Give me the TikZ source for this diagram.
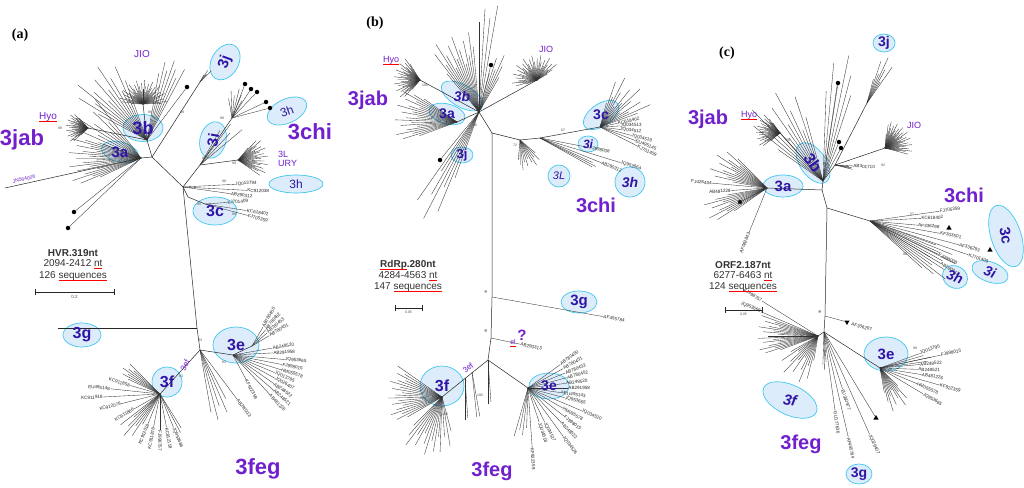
\documentclass[tikz,border=0pt]{standalone}
\usepackage{fontspec}
\setmainfont{Liberation Sans}
\newfontfamily\panelfont{Liberation Serif}
\usetikzlibrary{shapes.geometric}

\definecolor{ellfill}{RGB}{221,236,250}
\definecolor{ellline}{RGB}{64,200,240}
\definecolor{elltext}{RGB}{48,20,165}
\definecolor{grpcol}{RGB}{112,32,205}

% red spell-check underline
\newcommand{\redwave}[1]{\setbox0\hbox{#1}\rlap{\color{red}\rule[-1.8pt]{\wd0}{0.4pt}}\box0}
\newcommand{\fs}[1]{\fontsize{#1}{#1}\selectfont}

% one labelled leaf: from node, screen angle, length, label
\newcommand{\treeleaf}[4]{%
  \pgfmathtruncatemacro\rside{cos(#2)>=0 ? 1 : 0}%
  \ifnum\rside=1
    \pgfmathsetmacro\rot{-(#2)}%
    \draw[leafline] (#1) -- ++(#2:#3) node[leaflab,anchor=west,rotate=\rot] {#4};
  \else
    \pgfmathsetmacro\rot{180-(#2)}%
    \draw[leafline] (#1) -- ++(#2:#3) node[leaflab,anchor=east,rotate=\rot] {#4};
  \fi}

% a bunch of unlabelled leaves: node, first angle, last angle, count, shortest, longest
\newcommand{\treebush}[6]{%
  \foreach \i in {0,...,#4}{%
    \pgfmathsetmacro\ang{#2+(#3-#2)*\i/#4}%
    \pgfmathsetmacro\len{#5+(#6-#5)*mod(\i*3,5)/4}%
    \draw[leafline] (#1) -- ++(\ang:\len);}}

\begin{document}
\begin{tikzpicture}[x=1pt,y=-1pt,
  branchline/.style={line width=0.5pt, black!85},
  leafline/.style={line width=0.35pt, black!80},
  leaflab/.style={font=\fs{4.6}, inner sep=0.3pt, text=black!85},
  cladebox/.style={ellipse, draw=ellline, fill=ellfill, line width=0.7pt, inner sep=0pt},
  cladelab/.style={font=\bfseries\fs{15}, text=elltext, inner sep=0pt},
  grouplab/.style={font=\bfseries\fs{21}, text=grpcol, inner sep=0pt},
  sublab/.style={font=\fs{9}, text=grpcol, inner sep=0pt},
  bootlab/.style={font=\fs{3.5}, inner sep=0pt, text=black!70},
  infolab/.style={font=\fs{10}, inner sep=0pt, text=black!80},
  panellab/.style={font=\panelfont\bfseries\fs{14}, inner sep=0pt},
  blackdot/.style={circle, fill=black, minimum size=4.5pt, inner sep=0pt},
  trimark/.style={regular polygon, regular polygon sides=3, fill=black, minimum size=6pt, inner sep=0pt}]
\fill[white] (0,0) rectangle (1024,487);
\useasboundingbox (0,0) rectangle (1024,487);

%%%%%%%%%%%%%%%% (a) HVR %%%%%%%%%%%%%%%%
\node[panellab] (pa) at (20,35) {(a)};
% clades
\node[cladebox,minimum width=38pt,minimum height=27pt,rotate=60] (a3j) at (225,62) {};
\node[cladebox,minimum width=40pt,minimum height=27pt] (a3b) at (143,128) {};
\node[cladebox,minimum width=38pt,minimum height=20pt,rotate=-15] (a3a) at (120,152) {};
\node[cladebox,minimum width=37pt,minimum height=26pt,rotate=75] (a3i) at (213,140) {};
\node[cladebox,minimum width=42pt,minimum height=24pt,rotate=25] (a3h) at (287,111) {};
\node[cladebox,minimum width=54pt,minimum height=18pt] (a3hh) at (296,184) {};
\node[cladebox,minimum width=44pt,minimum height=28pt] (a3c) at (215,211) {};
\node[cladebox,minimum width=38pt,minimum height=24pt] (a3g) at (82,335) {};
\node[cladebox,minimum width=46pt,minimum height=36pt] (a3e) at (236,345) {};
\node[cladebox,minimum width=30pt,minimum height=30pt] (a3f) at (167,382) {};
% tree
\coordinate (aB) at (147,140);
\coordinate (aA) at (141,158);
\coordinate (aJ) at (152,157);
\coordinate (aC) at (183,187);
\coordinate (aG) at (197,328);
\coordinate (aGt) at (58,328);
\coordinate (aD) at (200,350);
\coordinate (aI) at (200,165);
\coordinate (aIu) at (232,118);
\coordinate (aL) at (238,160);
\coordinate (aCc) at (188,197);
\coordinate (aCn) at (205,204);
\coordinate (aE) at (233,355);
\coordinate (aEt) at (252,346);
\coordinate (aF) at (160,394);
\coordinate (aJio) at (143,104);
\coordinate (aHyo) at (88,128);
\coordinate (aJt) at (200,82);
\coordinate (aJN) at (5,188);
\draw[branchline] (aB) -- (aJ) -- (aC) -- (aG) -- (aD);
\draw[branchline] (aA) -- (aJ);
\draw[branchline] (aG) -- (aGt);
\draw[branchline] (aC) -- (aI) -- (aIu);
\draw[branchline] (aI) -- (aL);
\draw[branchline] (aC) -- (aCc) -- (aCn);
\draw[branchline] (aD) -- (aE) -- (aEt);
\draw[branchline] (aD) -- (aF);
\draw[branchline] (aB) -- (aJio);
\draw[branchline] (aB) -- (aHyo);
\draw[branchline] (aJ) -- (aJt);
\draw[branchline] (aA) -- (aJN);
% genotype 3jab leaves
\treebush{aJio}{-178}{-2}{44}{12}{24}
\treebush{aHyo}{135}{228}{32}{10}{22}
\treebush{aB}{-152}{-110}{12}{55}{88}
\treebush{aB}{-80}{-62}{6}{68}{84}
\treebush{aJt}{-62}{-45}{3}{8}{16}
\treebush{aA}{155}{200}{20}{45}{72}
\treebush{aA}{200}{232}{8}{40}{75}
\node[blackdot] (aDot1) at (187,87) {};
\node[blackdot] (aDot7) at (74,212) {};
\node[blackdot] (aDot8) at (68,228) {};
\draw[leafline] (aB) -- (aDot1);
\draw[leafline] (aA) -- (aDot7);
\draw[leafline] (aA) -- (aDot8);
% genotype 3chi leaves
\foreach \k/\x/\y in {2/245/84, 3/251/89, 4/257/92, 5/266/102, 6/270/108} {
  \node[blackdot] (aDot\k) at (\x,\y) {};
  \draw[leafline] (aIu) -- (aDot\k);
}
\treebush{aIu}{-100}{-60}{5}{20}{30}
\treebush{aL}{-50}{35}{26}{16}{30}
\treebush{aI}{-60}{-40}{3}{40}{55}
\treeleaf{aC}{-3}{52}{JQ013794}
\treeleaf{aC}{3}{64}{KC912038}
\treeleaf{aC}{8}{48}{AB290312}
\treeleaf{aCn}{-4}{22}{KJ701409}
\treeleaf{aCn}{9}{42}{KC618402}
\treeleaf{aCn}{15}{44}{FJ705359}
% genotype 3feg leaves
\foreach \a/\l/\t in {-60/22/AB780450, -50/21/AB780452, -41/20/AB780453, -31/20/AB780451}
  {\treeleaf{aEt}{\a}{\l}{\t}}
\foreach \a/\l/\t in {-10/40/AB248520, -3/40/AB291958, 5/52/JQ953665, 11/50/FJ998015, 17/50/HM055578,
  23/45/JQ013795, 29/48/JQ026407, 35/50/AB248522, 41/54/AB248521, 47/54/AB481226, 62/28/KF922359}
  {\treeleaf{aE}{\a}{\l}{\t}}
\treeleaf{aD}{53}{62}{AB290313}
\treebush{aD}{62}{80}{4}{55}{72}
\treebush{aF}{205}{225}{6}{35}{45}
\foreach \a/\l/\t in {196/31/KC911858, 186/50/EU495148, 177/57/KC911918, 166/40/KC912078, 150/30/KC911866,
  112/32/KC912018, 101/34/KC911878, 90/36/FJ998757, 79/34/KC912118, 68/36/JQ953666}
  {\treeleaf{aF}{\a}{\l}{\t}}
\treebush{aF}{120}{142}{6}{35}{55}
\treebush{aF}{58}{62}{1}{40}{45}
% labels
\node[cladelab,rotate=70] (a3jt) at (a3j) {3j};
\node[cladelab,font=\bfseries\fs{18}] (a3bt) at (a3b) {3b};
\node[cladelab] (a3at) at (a3a) {3a};
\node[cladelab,rotate=80] (a3it) at (a3i) {3i};
\node[cladelab,font=\fs{12},rotate=20] (a3ht) at (a3h) {3h};
\node[cladelab,font=\fs{12}] (a3hht) at (a3hh) {3h};
\node[cladelab,font=\bfseries\fs{16}] (a3ct) at (a3c) {3c};
\node[cladelab,font=\bfseries\fs{16}] (a3gt) at (a3g) {3g};
\node[cladelab,font=\bfseries\fs{16}] (a3et) at (a3e) {3e};
\node[cladelab,font=\bfseries\fs{16}] (a3ft) at (a3f) {3f};
\node[grouplab,font=\bfseries\fs{22}] (aJab) at (22,140) {3jab};
\node[grouplab,font=\bfseries\fs{22}] (aChi) at (310,132) {3chi};
\node[grouplab,font=\bfseries\fs{22}] (aFeg) at (258,469) {3feg};
\node[sublab,font=\fs{10}] (aJIO) at (142,54) {JIO};
\node[sublab,font=\fs{10}] (aHy) at (48,117) {\redwave{Hyo}};
\node[sublab,anchor=west] (a3L) at (278,154) {3L};
\node[sublab,anchor=west] (aURY) at (278,163) {URY};
\node[sublab,font=\fs{5},rotate=12] (aJNt) at (24,179) {JN564006};
\node[sublab,font=\fs{8},rotate=65] (a3ef) at (185,365) {3ef};
\foreach \x/\y/\b in {150/112/99, 182/112/99, 222/118/98, 204/158/96, 234/163/99, 224/181/98,
  199/204/95, 234/214/99, 200/340/93, 224/362/83, 181/376/63, 60/128/99}
  {\node[bootlab] at (\x,\y) {\b};}
% sample info and scale
\node[infolab,font=\bfseries\fs{10}] (aInfo1) at (73,253) {HVR.319nt};
\node[infolab] (aInfo2) at (73,264) {2094-2412 \redwave{nt}};
\node[infolab] (aInfo3) at (73,276) {126 \redwave{sequences}};
\coordinate (aS1) at (35,292);
\coordinate (aS2) at (114,292);
\draw[branchline,|-|] (aS1) -- (aS2) node[bootlab,font=\fs{4.5},midway,below=3pt] (aSc) {0.2};

%%%%%%%%%%%%%%%% (b) RdRp %%%%%%%%%%%%%%%%
\node[panellab] (pb) at (375,23) {(b)};
\node[cladebox,minimum width=46pt,minimum height=22pt,rotate=-30] (b3b) at (462,96) {};
\node[cladebox,minimum width=37pt,minimum height=20pt,rotate=-15] (b3a) at (447,114) {};
\node[cladebox,minimum width=22pt,minimum height=16pt] (b3j) at (462,155) {};
\node[cladebox,minimum width=40pt,minimum height=22pt,rotate=35] (b3c) at (601,115) {};
\node[cladebox,minimum width=20pt,minimum height=16pt] (b3i) at (588,144) {};
\node[cladebox,minimum width=22pt,minimum height=22pt] (b3L) at (559,176) {};
\node[cladebox,minimum width=30pt,minimum height=30pt] (b3h) at (630,182) {};
\node[cladebox,minimum width=36pt,minimum height=22pt] (b3g) at (579,302) {};
\node[cladebox,minimum width=44pt,minimum height=40pt] (b3f) at (442,386) {};
\node[cladebox,minimum width=40pt,minimum height=26pt] (b3e) at (549,386) {};
\coordinate (bJ) at (479,112);
\coordinate (bC) at (492,133);
\coordinate (bG) at (492,297);
\coordinate (bEl) at (491,338);
\coordinate (bD) at (488,360);
\coordinate (bHyo) at (420,80);
\coordinate (bJio) at (537,80);
\coordinate (bA) at (457,122);
\coordinate (bL) at (520,140);
\coordinate (bM) at (540,138);
\coordinate (bCn) at (600,127);
\coordinate (bF) at (442,397);
\coordinate (bE) at (528,388);
\coordinate (bEf1) at (472,372);
\coordinate (bEf2) at (465,378);
\draw[branchline] (bJ) -- (bC) -- (bG) -- (bEl) -- (bD);
\draw[branchline] (bC) -- (bL) -- (bM) -- (bCn);
\draw[branchline] (bJ) -- (bHyo);
\draw[branchline] (bJ) -- (bJio);
\draw[branchline] (bJ) -- (bA);
\draw[branchline] (bD) -- (bF);
\draw[branchline] (bD) -- (bE);
% genotype 3jab leaves
\treebush{bHyo}{130}{238}{34}{12}{26}
\treebush{bJio}{-200}{-30}{40}{12}{25}
\treebush{bJ}{-130}{-95}{14}{50}{80}
\treebush{bJ}{-90}{-80}{3}{90}{108}
\treebush{bJ}{-75}{-60}{5}{40}{62}
\treebush{bA}{160}{215}{20}{40}{62}
\treebush{bJ}{110}{125}{6}{70}{120}
\node[blackdot] (bDot1) at (491,65) {};
\node[blackdot] (bDot2) at (440,160) {};
\draw[leafline] (bJ) -- (bDot1);
\draw[leafline] (bJ) -- (bDot2);
% genotype 3chi leaves
\treebush{bL}{40}{95}{10}{20}{30}
\treeleaf{bM}{11}{50}{FJ998008}
\treeleaf{bM}{17}{84}{JQ953664}
\treeleaf{bM}{22}{66}{AB290312}
\treebush{bM}{25}{29}{2}{58}{64}
\treebush{bCn}{-75}{-20}{14}{25}{55}
\foreach \a/\l/\t in {-12/18/KC618402, -3/20/JQ034513, 7/20/JQ034512, 15/32/JQ034519, 21/38/EU495145, 27/42/KJ701409}
  {\treeleaf{bCn}{\a}{\l}{\t}}
% genotype 3feg leaves
\treeleaf{bG}{10}{113}{AF455784}
\treeleaf{bEl}{12}{30}{AB290313}
\treebush{bD}{86}{90}{1}{42}{45}
\treebush{bEf1}{80}{84}{1}{45}{45}
\treebush{bEf2}{86}{90}{1}{40}{42}
\treebush{bF}{150}{215}{18}{40}{54}
\treebush{bF}{95}{135}{10}{40}{60}
\treebush{bF}{75}{92}{3}{35}{55}
\foreach \a/\l/\t in {-36/40/AB780450, -29/40/AB780451, -22/40/AB780453, -15/40/AB780452, -7/38/AB248520,
  0/40/AB291958, 8/36/EU495143, 15/38/JQ953665, 23/58/JQ034520, 30/40/HM055578, 38/46/FJ998015,
  46/48/AB248522, 54/60/JQ034526, 64/38/JQ034517, 72/36/JQ034518, 86/60/KF922359}
  {\treeleaf{bE}{\a}{\l}{\t}}
\treebush{bE}{92}{106}{3}{40}{50}
% labels
\node[cladelab,font=\bfseries\itshape\fs{14}] (b3bt) at (b3b) {3b};
\node[cladelab,font=\bfseries\fs{14}] (b3at) at (b3a) {3a};
\node[cladelab,font=\bfseries\fs{13}] (b3jt) at (b3j) {3j};
\node[cladelab,font=\bfseries\fs{14}] (b3ct) at (b3c) {3c};
\node[cladelab,font=\bfseries\itshape\fs{12}] (b3it) at (b3i) {3i};
\node[cladelab,font=\itshape\fs{11}] (b3Lt) at (b3L) {3L};
\node[cladelab,font=\bfseries\itshape\fs{14}] (b3ht) at (b3h) {3h};
\node[cladelab,font=\bfseries\fs{15}] (b3gt) at (b3g) {3g};
\node[cladelab,font=\bfseries\fs{16}] (b3ft) at (b3f) {3f};
\node[cladelab,font=\bfseries\fs{14}] (b3et) at (b3e) {3e};
\node[grouplab,font=\bfseries\fs{20}] (bJab) at (368,100) {3jab};
\node[grouplab,font=\bfseries\fs{20}] (bChi) at (596,205) {3chi};
\node[grouplab,font=\bfseries\fs{20}] (bFeg) at (492,471) {3feg};
\node[sublab] (bHy) at (391,60) {\redwave{Hyo}};
\node[sublab] (bJIO) at (546,49) {JIO};
\node[sublab,font=\fs{8},rotate=40] (b3ef) at (468,368) {3ef};
\node[sublab,font=\fs{7}] (bElt) at (513,343) {\redwave{el}};
\node[sublab,font=\bfseries\fs{15}] (bQ) at (522,335) {?};
\foreach \x/\y/\b in {425/85/100, 521/82/100, 475/125/96, 563/130/67, 515/145/72, 445/414/100, 563/392/91, 480/395/100}
  {\node[bootlab] at (\x,\y) {\b};}
\node[bootlab,rotate=90] (bB93) at (486,292) {93};
\node[bootlab,rotate=90] (bB69) at (486,331) {69};
\node[infolab,font=\bfseries\fs{10}] (bInfo1) at (408,265) {\redwave{RdRp}.280nt};
\node[infolab] (bInfo2) at (408,276) {4284-4563 \redwave{nt}};
\node[infolab] (bInfo3) at (408,287) {147 \redwave{sequences}};
\coordinate (bS1) at (395,308);
\coordinate (bS2) at (422,308);
\draw[branchline,|-|] (bS1) -- (bS2) node[bootlab,midway,below=3pt] (bSc) {0.05};

%%%%%%%%%%%%%%%% (c) ORF2 %%%%%%%%%%%%%%%%
\node[panellab] (pc) at (727,53) {(c)};
\node[cladebox,minimum width=22pt,minimum height=18pt] (c3j) at (884,43) {};
\node[cladebox,minimum width=46pt,minimum height=26pt,rotate=-55] (c3b) at (813,163) {};
\node[cladebox,minimum width=40pt,minimum height=22pt] (c3a) at (783,186) {};
\node[cladebox,minimum width=64pt,minimum height=30pt,rotate=-72] (c3c) at (1006,236) {};
\node[cladebox,minimum width=26pt,minimum height=22pt,rotate=-30] (c3h) at (955,277) {};
\node[cladebox,minimum width=38pt,minimum height=20pt,rotate=-20] (c3i) at (990,272) {};
\node[cladebox,minimum width=44pt,minimum height=34pt] (c3e) at (886,354) {};
\node[cladebox,minimum width=58pt,minimum height=30pt,rotate=-25] (c3f) at (790,400) {};
\node[cladebox,minimum width=26pt,minimum height=20pt] (c3g) at (859,474) {};
\coordinate (cB) at (823,181);
\coordinate (cJ) at (822,190);
\coordinate (cA) at (767,188);
\coordinate (cK) at (827,208);
\coordinate (cChi) at (870,221);
\coordinate (cT) at (825,316);
\coordinate (cD) at (824,332);
\coordinate (cE) at (880,368);
\coordinate (cFf) at (818,336);
\coordinate (cHyo) at (780,133);
\coordinate (cJio) at (885,148);
\coordinate (cJj) at (867,103);
\coordinate (cBr) at (835,165);
\draw[branchline] (cB) -- (cJ) -- (cK) -- (cT) -- (cD);
\draw[branchline] (cJ) -- (cA);
\draw[branchline] (cK) -- (cChi);
\draw[branchline] (cB) -- (cHyo);
\draw[branchline] (cB) -- (cBr) -- (cJj);
\draw[branchline] (cBr) -- (cJio);
\draw[branchline] (cD) -- (cE);
\draw[branchline] (cD) -- (cFf);
% genotype 3jab leaves
\treebush{cHyo}{140}{235}{30}{12}{24}
\treebush{cJio}{-85}{15}{36}{14}{27}
\treebush{cB}{-145}{-105}{12}{55}{100}
\treebush{cB}{-88}{-72}{5}{90}{128}
\treebush{cJj}{-75}{-55}{6}{25}{50}
\treeleaf{cBr}{3}{18}{AB301710}
\treebush{cBr}{6}{14}{3}{14}{18}
\node[blackdot] (cDot1) at (838,83) {};
\node[blackdot] (cDot2) at (839,142) {};
\node[blackdot] (cDot3) at (841,148) {};
\node[blackdot] (cDot4) at (740,202) {};
\draw[leafline] (cB) -- (cDot1);
\draw[leafline] (cB) -- (cDot2);
\draw[leafline] (cB) -- (cDot3);
\draw[leafline] (cA) -- (cDot4);
\treeleaf{cA}{176}{36}{AB481228}
\treeleaf{cA}{185}{55}{FJ426404}
\treebush{cA}{145}{170}{10}{40}{65}
\treebush{cA}{190}{225}{12}{35}{60}
\treeleaf{cA}{112}{48}{AF082843}
% genotype 3chi leaves
\foreach \a/\l/\t in {-8/70/FJ705359, -3/51/KC618402, 5/48/AF336298, 10/71/KF303501,
  15/92/AF336293, 19/104/KJ701409, 26/76/FJ998008, 31/82/AB290312}
  {\treeleaf{cChi}{\a}{\l}{\t}}
\treebush{cChi}{20}{42}{10}{70}{95}
\node[trimark] (cTri1) at (949,228) {};
\node[trimark] (cTri2) at (990,250) {};
% genotype 3feg leaves
\node[trimark,rotate=180] (cTri3) at (847,322) {};
\draw[leafline] (cT) -- (cTri3);
\node[leaflab,anchor=west,rotate=-15] (cAF) at (851,324) {AF336297};
\foreach \a/\l/\t in {-20/42/JQ013795, -12/62/FJ998015, -5/40/AB248522, 2/38/AB248521, 9/42/AB481226,
  16/62/KF922359, 23/40/HM055578, 31/50/JQ953665}
  {\treeleaf{cE}{\a}{\l}{\t}}
\treebush{cE}{-16}{-8}{2}{45}{55}
\treebush{cE}{45}{80}{10}{25}{45}
\treebush{cFf}{160}{200}{18}{40}{60}
\treeleaf{cFf}{203}{62}{JQ953666}
\treeleaf{cFf}{212}{66}{FJ998757}
\treebush{cFf}{100}{150}{12}{25}{50}
\treebush{cD}{86}{92}{2}{30}{40}
\treeleaf{cD}{82}{80}{GU177636}
\treeleaf{cD}{72}{60}{EU360977}
\treeleaf{cD}{77}{108}{AF455784}
\node[trimark] (cTri4) at (876,418) {};
\draw[leafline] (cD) -- (cTri4);
\treeleaf{cD}{66}{112}{JQ026407}
% labels
\node[cladelab,font=\bfseries\fs{14}] (c3jt) at (c3j) {3j};
\node[cladelab,font=\bfseries\fs{16},rotate=-55] (c3bt) at (c3b) {3b};
\node[cladelab,font=\bfseries\fs{15}] (c3at) at (c3a) {3a};
\node[cladelab,font=\bfseries\fs{15},rotate=-80] (c3ct) at (c3c) {3c};
\node[cladelab,font=\bfseries\itshape\fs{14},rotate=-20] (c3ht) at (c3h) {3h};
\node[cladelab,font=\bfseries\itshape\fs{14},rotate=-20] (c3it) at (c3i) {3i};
\node[cladelab,font=\bfseries\fs{15}] (c3et) at (c3e) {3e};
\node[cladelab,font=\bfseries\itshape\fs{15},rotate=-10] (c3ft) at (c3f) {3f};
\node[cladelab,font=\bfseries\fs{14}] (c3gt) at (c3g) {3g};
\node[grouplab,font=\bfseries\fs{20}] (cJab) at (708,119) {3jab};
\node[grouplab,font=\bfseries\fs{20}] (cChiL) at (964,195) {3chi};
\node[grouplab,font=\bfseries\fs{20}] (cFeg) at (801,444) {3feg};
\node[sublab] (cHy) at (749,115) {\redwave{Hyo}};
\node[sublab] (cJIO) at (914,125) {JIO};
\foreach \x/\y/\b in {912/214/57, 905/254/98, 915/348/99, 788/140/76, 883/165/92}
  {\node[bootlab] at (\x,\y) {\b};}
\node[bootlab] (cB84) at (792,337) {84 57};
\node[bootlab,rotate=90] (cB99) at (820,312) {99};
\node[infolab,font=\bfseries\fs{10}] (cInfo1) at (743,265) {ORF2.187nt};
\node[infolab] (cInfo2) at (743,276) {6277-6463 \redwave{nt}};
\node[infolab] (cInfo3) at (743,287) {124 \redwave{sequences}};
\coordinate (cS1) at (725,310);
\coordinate (cS2) at (762,310);
\draw[branchline,|-|] (cS1) -- (cS2) node[bootlab,midway,below=3pt] (cSc) {0.05};
\end{tikzpicture}
\end{document}
